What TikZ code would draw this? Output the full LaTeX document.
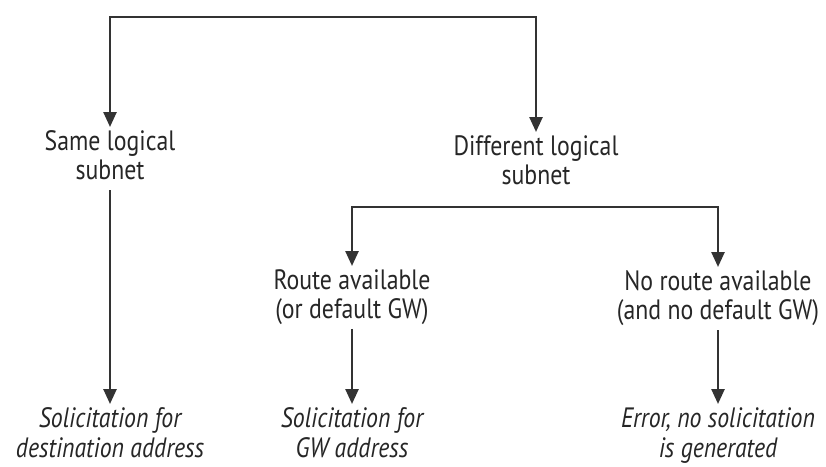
\documentclass[tikz,border=0pt]{standalone}
\usepackage{fontspec}
\setmainfont{PT Sans}[FakeStretch=0.85]
\usetikzlibrary{arrows.meta}
\begin{document}
\begin{tikzpicture}[x=1pt,y=-1pt,
  lbl/.style={align=center, inner sep=0pt, outer sep=0pt, anchor=north,
    font=\fontsize{28}{29}\selectfont, text=black!85},
  res/.style={lbl, font=\fontsize{28}{30}\selectfont\itshape},
  arr/.style={draw=black!80, line width=2.5pt,
    -{Triangle[length=15pt,width=13pt]}, shorten >=4pt}]
\useasboundingbox[fill=white] (0,0) rectangle (826,466);

\node[lbl] (same) at (110,131) {Same logical\\subnet};
\node[lbl] (diff) at (536,136) {Different logical\\subnet};
\node[lbl] (route) at (352,270) {Route available\\(or default GW)};
\node[lbl] (noroute) at (718,271) {No route available\\(and no default GW)};
\node[res] (sol1) at (110,408) {Solicitation for\\destination address};
\node[res] (sol2) at (352,408) {Solicitation for\\GW address};
\node[res] (err) at (718,408) {Error, no solicitation\\is generated};

\coordinate (top) at (323,17);
\coordinate (mid) at (536,207);

\draw[arr] (top) -| (same);
\draw[arr] (top) -| (diff);
\draw[arr] (mid) -| (route);
\draw[arr] (mid) -| (noroute);
\draw[arr, shorten <=10pt] (same) -- (sol1);
\draw[arr, shorten <=4pt] (route) -- (sol2);
\draw[arr, shorten <=4pt] (noroute) -- (err);
\end{tikzpicture}
\end{document}
